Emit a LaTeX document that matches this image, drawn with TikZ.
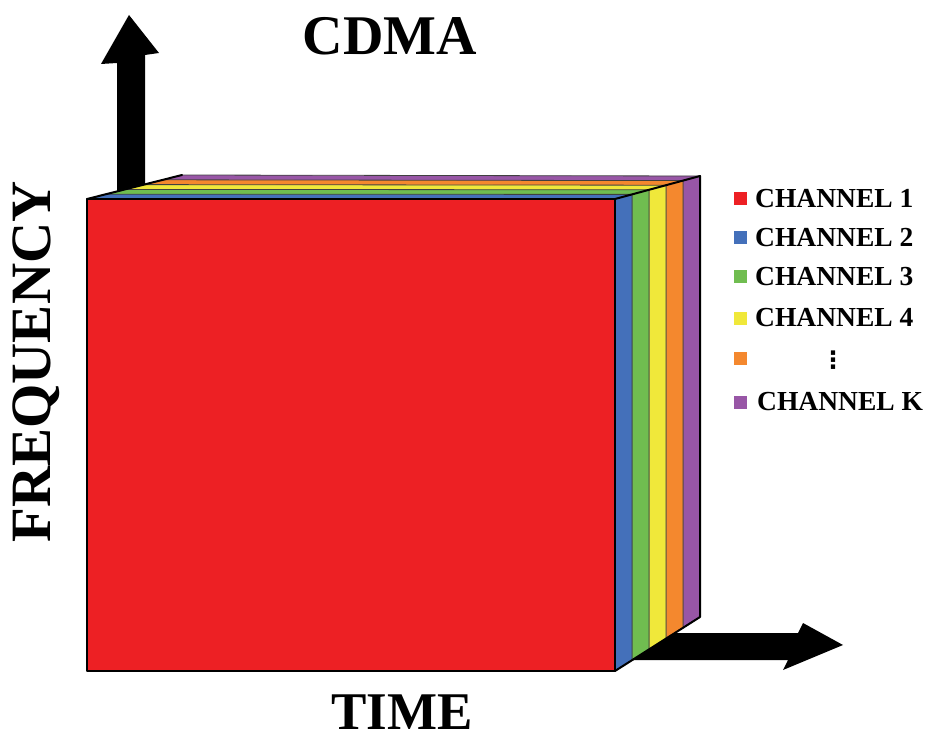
\documentclass[tikz,border=0pt]{standalone}
\usepackage{fontspec}
\setmainfont{Liberation Serif}
\newfontfamily\dotsfont{DejaVu Sans}
\usetikzlibrary{calc}

\definecolor{chR}{RGB}{237,32,36}
\definecolor{chB}{RGB}{68,112,186}
\definecolor{chG}{RGB}{112,189,80}
\definecolor{chY}{RGB}{240,232,58}
\definecolor{chO}{RGB}{244,136,46}
\definecolor{chP}{RGB}{152,86,166}

\tikzset{
  layeredge/.style={draw=black!75, line width=0.8pt, line join=round},
  rim/.style={draw=black, line width=2pt, line cap=round, line join=round},
  bigarrow/.style={fill=black, draw=none},
  legsq/.style={minimum size=13pt, inner sep=0pt, draw=none},
  legtxt/.style={anchor=west, inner sep=0pt, font=\fontsize{27.5}{30}\selectfont\bfseries},
  axistitle/.style={inner sep=0pt, font=\fontsize{56}{60}\selectfont\bfseries},
}

\begin{document}
\begin{tikzpicture}[x=1pt, y=-1pt]
  \useasboundingbox (0,0) rectangle (934,735);

  % axis arrows (drawn first, partly hidden by the block)
  \fill[bigarrow] (117,205) -- (117,63) -- (101,64) -- (129,15) -- (159,53)
                  -- (145,55) -- (145,205) -- cycle;
  \fill[bigarrow] (625,633) -- (798,633) -- (803,623) -- (843,645)
                  -- (783,670) -- (788,660) -- (625,660) -- cycle;

  % front and back faces of the stack of channel slabs
  \coordinate (FTL) at (87,199);
  \coordinate (FTR) at (615,199);
  \coordinate (FBR) at (615,671);
  \coordinate (FBL) at (87,671);
  \coordinate (BTL) at (182,175);
  \coordinate (BTR) at (700,176);
  \coordinate (BBR) at (700,617);
  \coordinate (BBL) at (182,617);

  \foreach \k in {0,...,5} {
    \coordinate (TL\k) at ($(FTL)!\k/5!(BTL)$);
    \coordinate (TR\k) at ($(FTR)!\k/5!(BTR)$);
    \coordinate (BR\k) at ($(FBR)!\k/5!(BBR)$);
    \coordinate (BL\k) at ($(FBL)!\k/5!(BBL)$);
  }

  % slabs, back to front
  \foreach \k/\c in {5/chP,4/chO,3/chY,2/chG,1/chB} {
    \pgfmathtruncatemacro{\j}{\k-1}
    \filldraw[fill=\c, layeredge] (BL\j) -- (TL\j) -- (TL\k) -- (TR\k)
      -- (BR\k) -- (BR\j) -- (TR\j) -- cycle;
  }

  % channel 1 in front
  \filldraw[fill=chR, rim] (FTL) rectangle (FBR);

  % outer edges of the block
  \draw[rim] (FTL) -- (BTL);
  \draw[rim] (FTR) -- (BTR) -- (BBR) -- (FBR);

  % titles
  \node[axistitle] (title) at (390,36) {CDMA};
  \node[axistitle, anchor=base, font=\fontsize{53}{57}\selectfont\bfseries]
    (time) at (402,729) {TIME};
  \node[axistitle, rotate=90, font=\fontsize{57}{61}\selectfont\bfseries]
    (freq) at (36,362) {FREQUENCY};

  % legend
  \foreach \c/\y [count=\i] in {chR/199, chB/238, chG/277, chY/318, chO/358, chP/402} {
    \node[legsq, fill=\c] (sq\i) at (740,\y) {};
  }
  \node[legtxt] (l1) at (755,199) {CHANNEL 1};
  \node[legtxt] (l2) at (755,238) {CHANNEL 2};
  \node[legtxt] (l3) at (755,277) {CHANNEL 3};
  \node[legtxt] (l4) at (755,318) {CHANNEL 4};
  \node[inner sep=0pt, font=\dotsfont\bfseries\fontsize{24}{26}\selectfont] (l5) at (833,360) {⋮};
  \node[legtxt] (l6) at (757,402) {CHANNEL K};
\end{tikzpicture}
\end{document}
